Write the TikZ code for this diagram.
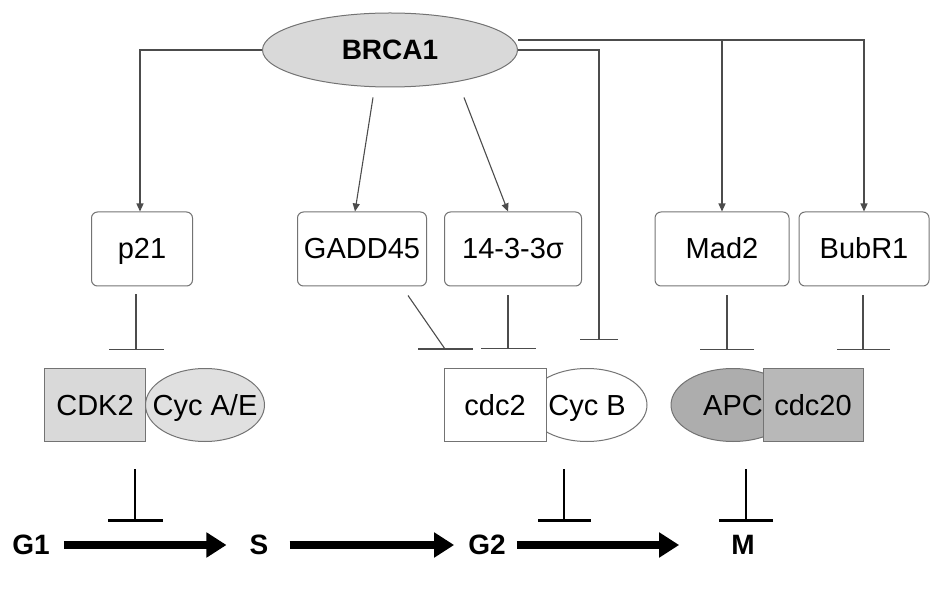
\documentclass[tikz,border=0pt]{standalone}
\usepackage{fontspec}
\setmainfont{Liberation Sans}
\usetikzlibrary{arrows.meta}
\usetikzlibrary{shapes.geometric}
\tikzset{
  inh/.style={draw=black!70,line width=1.1pt,-{Bar[width=#1]}},
  block/.style={line width=2.6pt,-{Bar[width=#1]}}
}

\begin{document}
\begin{tikzpicture}[x=1pt,y=-1pt,
  txt/.style={font=\fontsize{29}{32}\selectfont,text height=20pt,text depth=0pt},
  bold/.style={font=\fontsize{28}{31}\selectfont\bfseries,inner sep=0pt},
  gene/.style={txt,draw=black!55,line width=1pt,rounded corners=6pt,inner sep=0pt,
    minimum height=74pt},
  cplx/.style={txt,draw=black!55,line width=1pt,inner sep=0pt,minimum height=73pt},
  act/.style={draw=black!70,line width=1.1pt,-{Triangle[length=8pt,width=7pt]}},
  phase/.style={line width=8pt,-{Triangle[length=20pt,width=24pt]}}]

  \useasboundingbox (0,0) rectangle (931,601);

  \node[ellipse,draw=black!55,line width=1pt,fill=black!15,minimum width=255pt,
    minimum height=74pt,inner sep=0pt,bold] (brca) at (390,50) {BRCA1};

  \node[gene,minimum width=101pt] (p21) at (142,249) {p21};
  \node[gene,minimum width=129pt] (gadd) at (362,249) {GADD45};
  \node[gene,minimum width=137pt] (sigma) at (513,249) {14-3-3σ};
  \node[gene,minimum width=134pt] (mad) at (722,249) {Mad2};
  \node[gene,minimum width=130pt] (bubr) at (864,249) {BubR1};

  \node[cplx,minimum width=101pt,fill=black!15] (cdk) at (95,405) {CDK2};
  \node[cplx,ellipse,minimum width=119pt,fill=black!12,
    label={[txt]center:Cyc A/E}] (cycae) at (205,405) {};
  \node[cplx,ellipse,minimum width=120pt,fill=white,
    label={[txt]center:Cyc B}] (cycb) at (587,405) {};
  \node[cplx,minimum width=102pt,fill=white] (cdc) at (495,405) {cdc2};
  \node[cplx,ellipse,minimum width=124pt,fill=black!32,
    label={[txt]center:APC}] (apc) at (733,405) {};
  \node[cplx,minimum width=100pt,fill=black!28] (cdcb) at (813,405) {cdc20};

  \node[bold] (g1) at (31,545) {G1};
  \node[bold] (s) at (259,545) {S};
  \node[bold] (g2) at (487,545) {G2};
  \node[bold] (m) at (743,545) {M};

  \coordinate (top) at ([yshift=10pt]brca.east);
  \draw[act] (brca.west) -| ([xshift=-2pt]p21.north);
  \draw[act] ([shift={(-17,10)}]brca.south) -- ([xshift=-7pt]gadd.north);
  \draw[act] ([shift={(74,10)}]brca.south) -- ([xshift=-5pt]sigma.north);
  \draw[act] (top) -| (bubr.north);
  \draw[act] (top -| mad.north) -- (mad.north);

  \coordinate (b1) at (136,350);
  \coordinate (b2) at (445,349);
  \coordinate (b3) at (508,349);
  \coordinate (b4) at (599,340);
  \coordinate (b5) at (727,350);
  \coordinate (b6) at (863,350);
  \draw[inh=55pt,shorten <=8pt] (p21.south -| b1) -- (b1);
  \draw[draw=black!70,line width=1.1pt] ([shift={(46,9)}]gadd.south) -- (b2);
  \draw[draw=black!70,line width=1.1pt] ([xshift=-27pt]b2) -- ([xshift=28pt]b2);
  \draw[inh=55pt,shorten <=9pt] (sigma.south -| b3) -- (b3);
  \draw[inh=38pt] (brca.east) -| (b4);
  \draw[inh=54pt,shorten <=9pt] (mad.south -| b5) -- (b5);
  \draw[inh=53pt,shorten <=9pt] (bubr.south -| b6) -- (b6);

  \coordinate (t1) at (135,522);
  \coordinate (t2) at (564,522);
  \coordinate (t3) at (746,522);
  \draw[block=55pt,shorten <=27pt] (cdk.south -| t1) -- (t1);
  \draw[block=53pt,shorten <=27pt] (cdc.south -| t2) -- (t2);
  \draw[block=54pt,shorten <=27pt] (apc.south -| t3) -- (t3);

  \draw[phase] ([xshift=14pt]g1.east) -- ([xshift=-23pt]s.west);
  \draw[phase] ([xshift=21pt]s.east) -- ([xshift=-14pt]g2.west);
  \draw[phase] ([xshift=11pt]g2.east) -- ([xshift=-52pt]m.west);
\end{tikzpicture}
\end{document}
